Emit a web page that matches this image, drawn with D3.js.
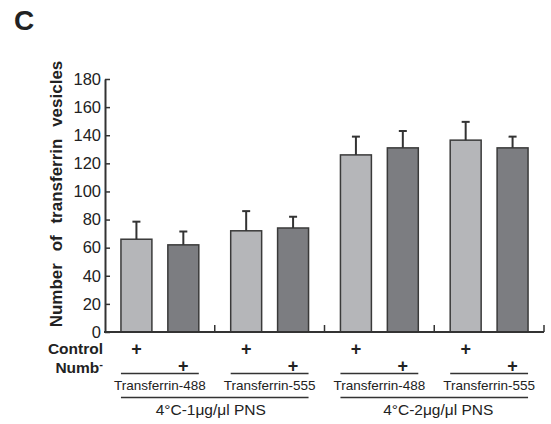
<!DOCTYPE html>
<html>
<head>
<meta charset="utf-8">
<script src="https://cdn.jsdelivr.net/npm/d3@7"></script>
<style>
  body { margin: 0; background: #fff; }
  text { font-family: Arial, "Liberation Sans", sans-serif; fill: #222; }
</style>
</head>
<body>
<div id="chart"></div>
<script>
// données
const groups = ["Transferrin-488", "Transferrin-555", "Transferrin-488", "Transferrin-555"];
const conditions = ["Control", "Numb"];
const means = [66, 62, 72, 74, 126, 131, 136.5, 131];
const errors = [12.5, 9.5, 14, 8, 13, 12, 13, 8];
const doses = ["4°C-1μg/μl PNS", "4°C-2μg/μl PNS"];
const yTicks = [0, 20, 40, 60, 80, 100, 120, 140, 160, 180];

const colors = ["#b5b6b9", "#7c7d81"];

const svg = d3.select("#chart").append("svg")
    .attr("width", 551)
    .attr("height", 424);

// échelles
const x0 = d3.scaleBand().domain(d3.range(groups.length)).range([105, 544]).padding(0);
const x1 = d3.scaleBand().domain(conditions).range([0, x0.bandwidth()]).padding(0.34);
const y = d3.scaleLinear().domain([0, 180]).range([332, 79]);

const bars = means.map((m, i) => ({
    g: Math.floor(i / 2),
    c: conditions[i % 2],
    k: i % 2,
    mean: m,
    err: errors[i]
}));
const bx = d => x0(d.g) + x1(d.c);

// lettre du panneau
svg.append("text")
    .attr("x", 14).attr("y", 30)
    .style("font-size", "28px").style("font-weight", "bold")
    .text("C");

// axe y
const yAxis = svg.append("g")
    .attr("transform", "translate(105,0)")
    .call(d3.axisLeft(y).tickValues(yTicks).tickSize(-5).tickSizeOuter(0).tickPadding(4));
yAxis.select(".domain").attr("stroke", "#333").attr("stroke-width", 2);
yAxis.selectAll(".tick line").attr("stroke", "#333").attr("stroke-width", 1.5);
yAxis.selectAll(".tick text")
    .style("font-size", "16.5px")
    .style("font-family", "Arial, 'Liberation Sans', sans-serif")
    .attr("fill", "#333");

svg.append("text")
    .attr("transform", "translate(62,194) rotate(-90)")
    .attr("text-anchor", "middle")
    .style("font-size", "17px").style("font-weight", "bold")
    .style("word-spacing", "7px")
    .text("Number of transferrin vesicles");

// barres
svg.selectAll("rect.bar")
    .data(bars)
    .enter().append("rect")
    .attr("class", "bar")
    .attr("x", bx)
    .attr("y", d => y(d.mean))
    .attr("width", x1.bandwidth())
    .attr("height", d => y(0) - y(d.mean))
    .attr("fill", d => colors[d.k])
    .attr("stroke", "#3a3a3a")
    .attr("stroke-width", 1.5);

// barres d'erreur (vers le haut seulement)
const eb = svg.selectAll("g.err").data(bars).enter().append("g").attr("class", "err");
eb.append("line")
    .attr("x1", d => bx(d) + x1.bandwidth() / 2)
    .attr("x2", d => bx(d) + x1.bandwidth() / 2)
    .attr("y1", d => y(d.mean))
    .attr("y2", d => y(d.mean + d.err))
    .attr("stroke", "#333").attr("stroke-width", 2);
eb.append("line")
    .attr("x1", d => bx(d) + x1.bandwidth() / 2 - 4)
    .attr("x2", d => bx(d) + x1.bandwidth() / 2 + 4)
    .attr("y1", d => y(d.mean + d.err))
    .attr("y2", d => y(d.mean + d.err))
    .attr("stroke", "#333").attr("stroke-width", 2);

// axe x
svg.append("line")
    .attr("x1", 104).attr("x2", x0.range()[1])
    .attr("y1", y(0)).attr("y2", y(0))
    .attr("stroke", "#333").attr("stroke-width", 2);
svg.selectAll("line.gtick")
    .data(groups)
    .enter().append("line")
    .attr("class", "gtick")
    .attr("x1", (d, i) => x0(i) + x0.bandwidth())
    .attr("x2", (d, i) => x0(i) + x0.bandwidth())
    .attr("y1", y(0)).attr("y2", y(0) - 7)
    .attr("stroke", "#333").attr("stroke-width", 1.5);

// lignes Control / Numb
const rowY = [349, 366];
svg.append("text")
    .attr("x", 103).attr("y", rowY[0]).attr("dy", "0.35em")
    .attr("text-anchor", "end")
    .style("font-size", "15.5px").style("font-weight", "bold")
    .text("Control");
const numb = svg.append("text")
    .attr("x", 103).attr("y", rowY[1] + 2).attr("dy", "0.35em")
    .attr("text-anchor", "end")
    .style("font-size", "15.5px").style("font-weight", "bold");
numb.append("tspan").text("Numb");
numb.append("tspan").attr("dy", "-0.45em").style("font-size", "11px").text("-");

svg.selectAll("text.plus")
    .data(bars)
    .enter().append("text")
    .attr("class", "plus")
    .attr("x", d => bx(d) + x1.bandwidth() / 2)
    .attr("y", d => rowY[d.k])
    .attr("dy", "0.35em")
    .attr("text-anchor", "middle")
    .style("font-size", "18px").style("font-weight", "bold")
    .text("+");

// soulignement par groupe
const gl = svg.selectAll("g.glab").data(groups).enter().append("g").attr("class", "glab");
gl.append("line")
    .attr("x1", (d, i) => x0(i) + x1(conditions[0]))
    .attr("x2", (d, i) => x0(i) + x1(conditions[1]) + x1.bandwidth())
    .attr("y1", 373.5).attr("y2", 373.5)
    .attr("stroke", "#333").attr("stroke-width", 1.5);
gl.append("text")
    .attr("x", (d, i) => x0(i) + x0.bandwidth() / 2)
    .attr("y", 385).attr("dy", "0.35em")
    .attr("text-anchor", "middle")
    .style("font-size", "13.5px")
    .text(d => d);

// concentration de PNS
const dl = svg.selectAll("g.dose").data(doses).enter().append("g").attr("class", "dose");
dl.append("line")
    .attr("x1", (d, i) => x0(2 * i) + x1(conditions[0]))
    .attr("x2", (d, i) => x0(2 * i + 1) + x1(conditions[1]) + x1.bandwidth())
    .attr("y1", 397.5).attr("y2", 397.5)
    .attr("stroke", "#333").attr("stroke-width", 1.5);
dl.append("text")
    .attr("x", (d, i) => x0(2 * i) + x0.bandwidth() + (i === 0 ? -4 : 4))
    .attr("y", 410).attr("dy", "0.35em")
    .attr("text-anchor", "middle")
    .style("font-size", "15.5px")
    .text(d => d);
</script>
</body>
</html>
